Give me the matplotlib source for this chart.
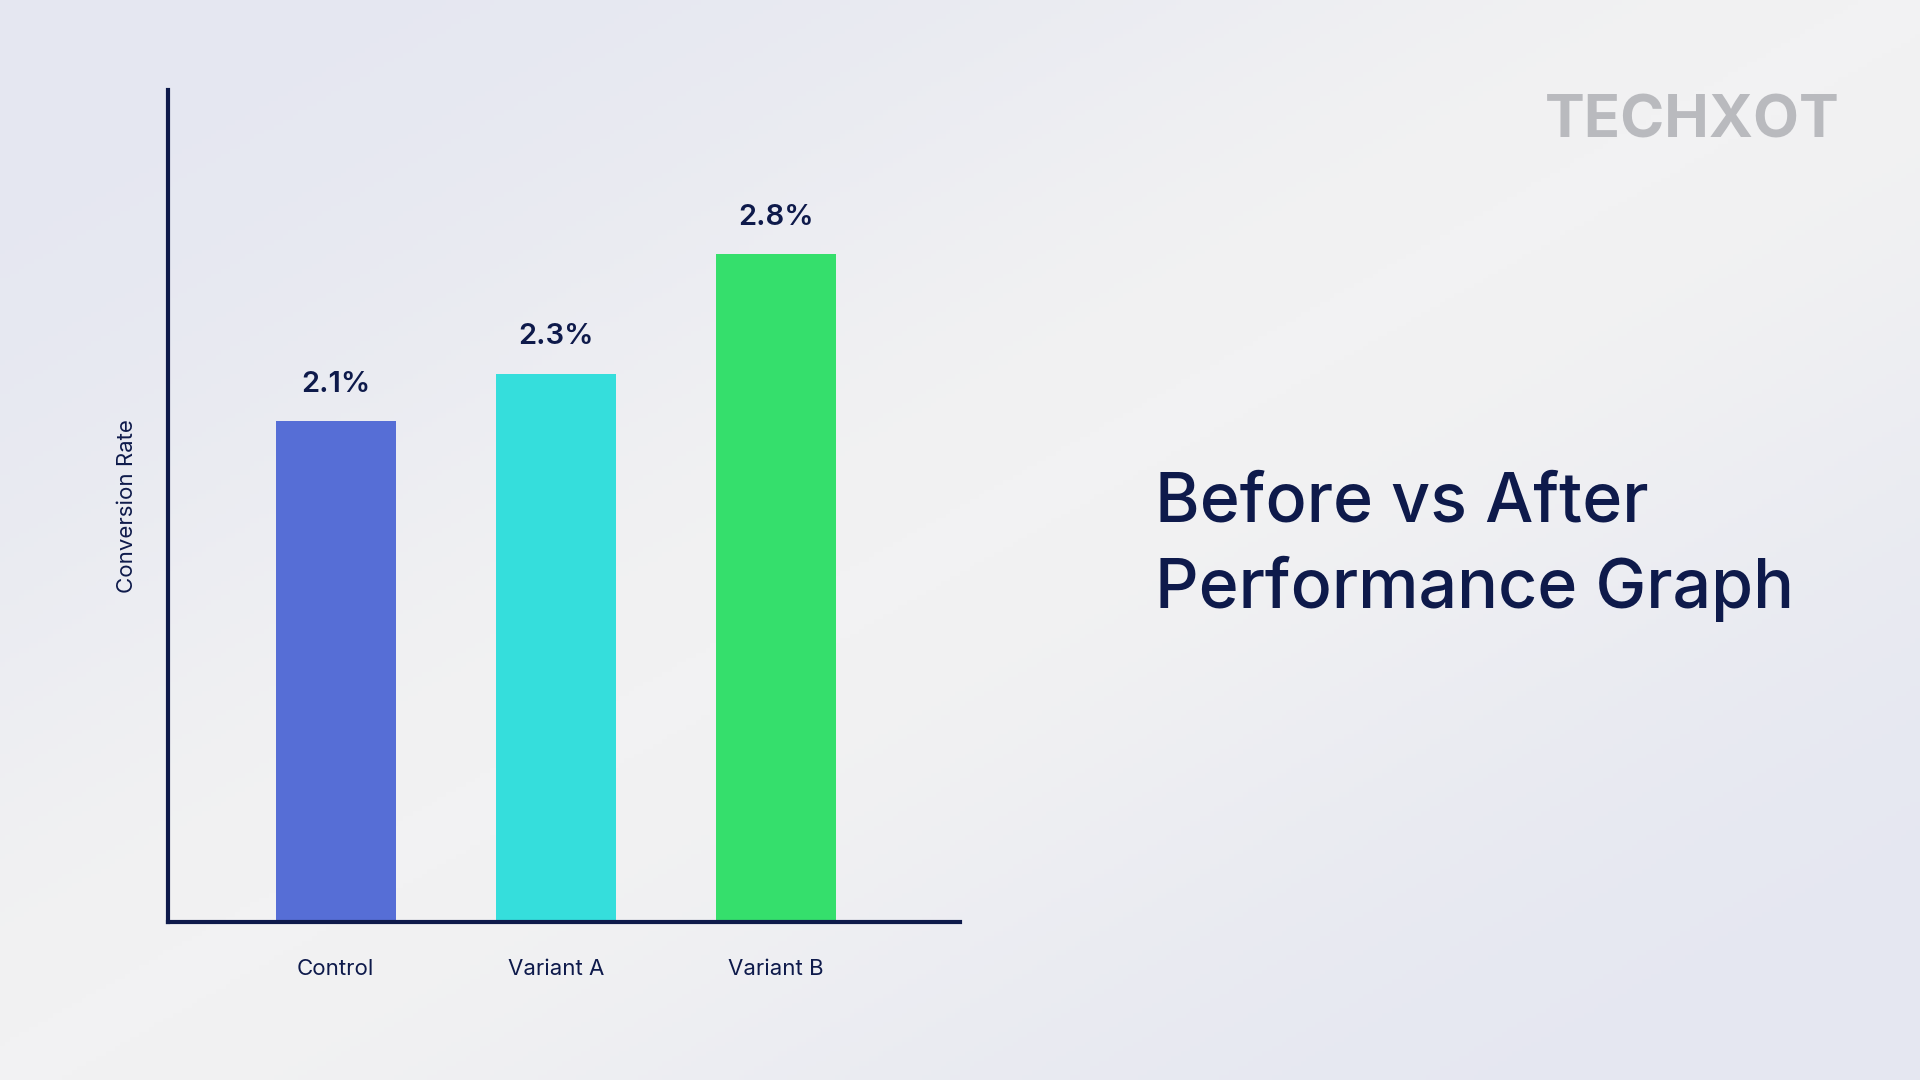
"Conversion rate bar chart: before vs after."
import numpy as np
import matplotlib.pyplot as plt
from matplotlib.colors import LinearSegmentedColormap

categories = ["Control", "Variant A", "Variant B"]
rates = [2.1, 2.3, 2.8]
bar_colors = ["#566ed6", "#35dedc", "#35df6c"]

navy = "#0e1a4b"
font = "Inter"

fig = plt.figure(figsize=(19.2, 10.8), dpi=100)

# soft diagonal background
bg = fig.add_axes([0, 0, 1, 1], zorder=-10)
xx, yy = np.meshgrid(np.linspace(0, 1, 400), np.linspace(0, 1, 225))
band = np.exp(-((xx + yy - 1.0) / 0.5) ** 2)
cmap = LinearSegmentedColormap.from_list("bg", ["#e5e7f1", "#f2f2f3"])
bg.imshow(band, cmap=cmap, aspect="auto", extent=[0, 1, 0, 1], origin="upper")
bg.axis("off")

ax = fig.add_axes([0.0875, 0.1463, 0.4125, 0.7704])
ax.patch.set_alpha(0)
x = np.arange(len(categories))
bars = ax.bar(x, rates, width=0.545, color=bar_colors, zorder=2)

for b, v in zip(bars, rates):
    ax.annotate(f"{v}%", (b.get_x() + b.get_width() / 2, v),
                xytext=(0, 21), textcoords="offset points",
                ha="center", va="baseline", fontsize=21, color=navy,
                fontfamily=font, fontweight="semibold")

ax.set_xlim(-0.761, 2.836)
ax.set_ylim(0, 3.49)
ax.set_xticks(x, categories)
ax.set_yticks([])
ax.tick_params(axis="x", length=0, pad=27, labelsize=16, labelcolor=navy)
for lbl in ax.get_xticklabels():
    lbl.set_fontfamily(font)
ax.set_ylabel("Conversion Rate", fontsize=16, color=navy, fontfamily=font, labelpad=22)

for side in ["top", "right"]:
    ax.spines[side].set_visible(False)
for side in ["left", "bottom"]:
    ax.spines[side].set_color(navy)
    ax.spines[side].set_linewidth(3)

fig.text(0.6015, 1 - 521 / 1080, "Before vs After", fontsize=49, color=navy,
         fontfamily=font, fontweight="medium", va="baseline")
fig.text(0.6015, 1 - 608 / 1080, "Performance Graph", fontsize=49, color=navy,
         fontfamily=font, fontweight="medium", va="baseline")

fig.text(1840 / 1920, 1 - 137 / 1080, "TECHXOT", fontsize=43, color="#b9babe",
         fontfamily=font, fontweight="bold", ha="right", va="baseline")

fig.savefig("out.png", dpi=100)
